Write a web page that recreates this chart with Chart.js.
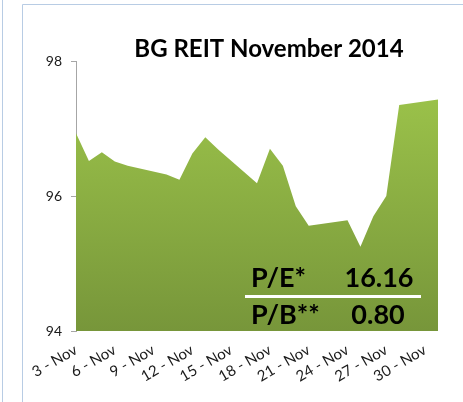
<!DOCTYPE html>
<html>
<head>
<meta charset="utf-8">
<script src="https://cdn.jsdelivr.net/npm/chart.js@4"></script>
<style>
  html, body { margin: 0; padding: 0; background: #fff; }
  #wrap { width: 463px; height: 402px; }
</style>
</head>
<body>
<div id="wrap"><canvas id="reitChart" width="463" height="402"></canvas></div>
<script>
// trading days, November 2014 (last one is 1 December)
const dates = [
    '2014-11-03', '2014-11-04', '2014-11-05', '2014-11-06', '2014-11-07',
    '2014-11-10', '2014-11-11', '2014-11-12', '2014-11-13', '2014-11-14',
    '2014-11-17', '2014-11-18', '2014-11-19', '2014-11-20', '2014-11-21',
    '2014-11-24', '2014-11-25', '2014-11-26', '2014-11-27', '2014-11-28',
    '2014-12-01'
];
const prices = [
    96.93, 96.52, 96.65, 96.51, 96.45,
    96.32, 96.24, 96.63, 96.87, 96.69,
    96.19, 96.70, 96.45, 95.85, 95.56,
    95.64, 95.25, 95.70, 96.00, 97.35,
    97.43
];
const tickDays = [3, 6, 9, 12, 15, 18, 21, 24, 27, 30];
const yTicks = [94, 96, 98];
const titleText = 'BG REIT November 2014';
const ratioLabels = ['P/E*', 'P/B**'];
const ratioValues = ['16.16', '0.80'];

const day0 = Date.parse('2014-10-31');
const points = dates.map((d, i) => ({ x: (Date.parse(d) - day0) / 86400000, y: prices[i] }));

const FONT = 'Lato, "Noto Sans", sans-serif';

const decorPlugin = {
    id: 'decor',
    beforeDraw(chart) {
        const c = chart.ctx;
        c.save();
        c.strokeStyle = '#b8cce4';
        c.lineWidth = 1;
        c.beginPath();
        c.moveTo(2.5, 0); c.lineTo(2.5, 402);
        c.moveTo(22.5, 402); c.lineTo(22.5, 4.5); c.lineTo(463, 4.5);
        c.stroke();
        c.restore();
    },
    beforeDatasetDraw(chart) {
        const c = chart.ctx;
        c.save();
        c.shadowColor = 'rgba(0,0,0,0.35)';
        c.shadowBlur = 3;
        c.shadowOffsetX = 2;
        c.shadowOffsetY = 2;
    },
    afterDatasetDraw(chart) {
        chart.ctx.restore();
    },
    afterDraw(chart) {
        const c = chart.ctx;
        c.save();
        c.fillStyle = '#000';
        c.textBaseline = 'alphabetic';
        c.font = 'bold 24px ' + FONT;
        c.textAlign = 'center';
        c.fillText(titleText, 269, 57);

        c.font = 'bold 27px ' + FONT;
        c.textAlign = 'left';
        c.fillText(ratioLabels[0], 251, 287);
        c.fillText(ratioLabels[1], 251, 324);
        c.textAlign = 'center';
        c.fillText(ratioValues[0], 379, 287);
        c.fillText(ratioValues[1], 378, 324);

        c.strokeStyle = '#fff';
        c.lineWidth = 3;
        c.beginPath();
        c.moveTo(245, 296.5);
        c.lineTo(421, 296.5);
        c.stroke();
        c.restore();
    }
};

const ctx = document.getElementById('reitChart').getContext('2d');
new Chart(ctx, {
    type: 'line',
    data: {
        datasets: [{
            data: points,
            borderWidth: 0,
            pointRadius: 0,
            tension: 0,
            fill: 'start',
            backgroundColor: function (context) {
                const area = context.chart.chartArea;
                if (!area) return '#8fb044';
                const g = context.chart.ctx.createLinearGradient(0, area.top, 0, area.bottom);
                g.addColorStop(0, '#a0c84c');
                g.addColorStop(1, '#77963a');
                return g;
            }
        }]
    },
    options: {
        responsive: false,
        animation: false,
        layout: { padding: { left: 0, right: 25, top: 61, bottom: 0 } },
        plugins: {
            legend: { display: false },
            title: { display: false },
            tooltip: { enabled: false }
        },
        scales: {
            x: {
                type: 'linear',
                min: 3,
                max: 31,
                afterBuildTicks: axis => { axis.ticks = tickDays.map(v => ({ value: v })); },
                afterFit: axis => { axis.height = 71; },
                grid: { display: false },
                border: { display: false },
                ticks: {
                    autoSkip: false,
                    minRotation: 30,
                    maxRotation: 30,
                    padding: 2,
                    color: '#1a1a1a',
                    font: { family: FONT, size: 15 },
                    callback: v => v + ' - Nov'
                }
            },
            y: {
                min: 94,
                max: 98,
                afterBuildTicks: axis => { axis.ticks = yTicks.map(v => ({ value: v })); },
                afterFit: axis => { axis.width = 76; },
                grid: { drawOnChartArea: false, color: '#a6a6a6', tickLength: 5 },
                border: { display: true, color: '#a6a6a6', width: 1 },
                ticks: {
                    padding: 9,
                    color: '#1a1a1a',
                    font: { family: FONT, size: 14 }
                }
            }
        }
    },
    plugins: [decorPlugin]
});
</script>
</body>
</html>
